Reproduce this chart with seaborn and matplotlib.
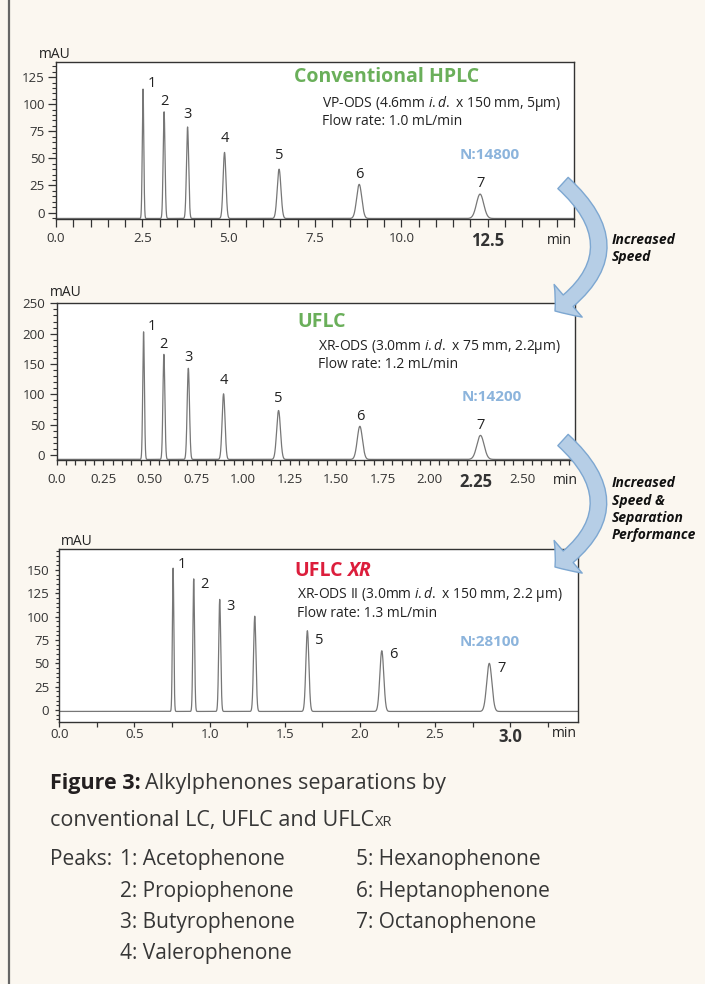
import numpy as np
import pandas as pd
import matplotlib
matplotlib.use("Agg")
import matplotlib.pyplot as plt
import seaborn as sns
from matplotlib.patches import FancyArrowPatch
from matplotlib.lines import Line2D
from matplotlib.ticker import MultipleLocator

# --- values ---
peak_ids = ["1", "2", "3", "4", "5", "6", "7"]
compounds = ["Acetophenone", "Propiophenone", "Butyrophenone", "Valerophenone",
             "Hexanophenone", "Heptanophenone", "Octanophenone"]

# conventional HPLC
hplc_rt = [2.52, 3.13, 3.81, 4.88, 6.46, 8.78, 12.28]
hplc_mau = [114, 93, 79, 55.5, 40, 26, 17]
hplc_sigma = [0.022, 0.027, 0.032, 0.041, 0.054, 0.074, 0.104]
hplc_base = -5.5

# UFLC
uflc_rt = [0.466, 0.575, 0.706, 0.895, 1.19, 1.626, 2.273]
uflc_mau = [203, 166, 143, 101, 73.5, 47.5, 32.5]
uflc_sigma = [0.0045, 0.0052, 0.0062, 0.0078, 0.0102, 0.0138, 0.0192]
uflc_base = -7

# UFLC XR
xr_rt = [0.757, 0.894, 1.067, 1.30, 1.65, 2.145, 2.86]
xr_mau = [152, 140.5, 118.5, 100.5, 85, 63.5, 50]
xr_sigma = [0.0048, 0.0056, 0.0066, 0.0080, 0.0100, 0.0130, 0.0172]
xr_base = -1.5

plate_counts = ["N:14800", "N:14200", "N:28100"]

# --- style ---
sns.set_theme(style="white")
plt.rcParams.update({
    "mathtext.fontset": "custom",
    "mathtext.rm": "Open Sans",
    "mathtext.it": "Open Sans:italic",
    "mathtext.bf": "Open Sans:bold",
    "axes.edgecolor": "#333333",
    "axes.linewidth": 1.0,
    "xtick.color": "#333333",
    "ytick.color": "#333333",
    "text.color": "#222222",
    "axes.facecolor": "white",
})
plt.rcParams["font.family"] = ["Open Sans", "DejaVu Sans"]

W, H = 705, 984
BG = "#FBF7F0"
GREEN = "#6AAF5A"
RED = "#DC1E3C"
NBLUE = "#8CB4DC"
TRACE = "#777777"


def trace(rt, apex, sigma, base, tmax, n=8000):
    t = np.linspace(0, tmax, n)
    y = np.full_like(t, base, dtype=float)
    for r, h, s in zip(rt, apex, sigma):
        y += (h - base) * np.exp(-0.5 * ((t - r) / s) ** 2)
    return pd.DataFrame({"min": t, "mAU": y})


def box(l, t, r, b):
    return [l / W, 1 - b / H, (r - l) / W, (b - t) / H]


fig = plt.figure(figsize=(W / 100, H / 100), dpi=100, facecolor=BG)

panels = [
    dict(pos=box(56, 62, 574, 219), rt=hplc_rt, mau=hplc_mau, sigma=hplc_sigma, base=hplc_base,
         xlim=(0, 15), ylim=(-6, 139), xmaj=2.5, xmin=0.5, ymaj=25, ymin=5,
         xlabels=["0.0", "2.5", "5.0", "7.5", "10.0", "12.5"], bold="12.5",
         xtl=5.5, xpad=3.8, ytl=5.5, ytl2=2.9, ypad=2.4,
         labels=peak_ids,
         offs=[(8.5, 6), (0, 10), (0, 12), (0, 14), (0, 13.5), (0, 10), (0, 10.5)],
         unit_off=(-1, 7), minpos=(-15, -21)),
    dict(pos=box(56.7, 303, 575, 460), rt=uflc_rt, mau=uflc_mau, sigma=uflc_sigma, base=uflc_base,
         xlim=(0, 2.78), ylim=(-8, 250.5), xmaj=0.25, xmin=0.05, ymaj=50, ymin=10,
         xlabels=["0.0", "0.25", "0.50", "0.75", "1.00", "1.25", "1.50", "1.75", "2.00", "2.25", "2.50"],
         bold="2.25",
         xtl=3.6, xpad=5.8, ytl=5.0, ytl2=2.9, ypad=3.4,
         labels=peak_ids,
         offs=[(8.5, 5), (0, 9.5), (0, 11), (0, 13.5), (0, 12.5), (0, 10), (0, 10)],
         unit_off=(9, 10), minpos=(-10, -21)),
    dict(pos=box(59.3, 549, 578, 721.7), rt=xr_rt, mau=xr_mau, sigma=xr_sigma, base=xr_base,
         xlim=(0, 3.45), ylim=(-12.5, 172.5), xmaj=0.5, xmin=0.25, ymaj=25, ymin=5,
         xlabels=["0.0", "0.5", "1.0", "1.5", "2.0", "2.5", "3.0"], bold="3.0",
         xtl=3.6, xpad=1.2, ytl=3.1, ytl2=1.9, ypad=4.1,
         labels=["1", "2", "3", "", "5", "6", "7"],
         offs=[(8.4, 3.5), (10.7, -5.8), (10.8, -7.2), (0, 0), (11.5, -10), (11.5, -3.5), (12.3, -5.5)],
         unit_off=(17, 7.5), minpos=(-13.5, -11.5)),
]

axes = []
for p in panels:
    ax = fig.add_axes(p["pos"])
    df = trace(p["rt"], p["mau"], p["sigma"], p["base"], p["xlim"][1])
    sns.lineplot(data=df, x="min", y="mAU", ax=ax, color=TRACE, linewidth=0.9,
                 estimator=None, sort=False)
    ax.set_xlim(*p["xlim"])
    ax.set_ylim(*p["ylim"])
    ax.set_xlabel("")
    ax.set_ylabel("")
    for s in ax.spines.values():
        s.set_color("#333333")
        s.set_linewidth(1.0)

    xt = np.arange(len(p["xlabels"])) * p["xmaj"]
    ax.set_xticks(xt)
    ax.set_xticklabels(p["xlabels"])
    ax.xaxis.set_minor_locator(MultipleLocator(p["xmin"]))
    ax.yaxis.set_major_locator(MultipleLocator(p["ymaj"]))
    ax.yaxis.set_minor_locator(MultipleLocator(p["ymin"]))
    ax.tick_params(axis="x", which="both", direction="out", length=p["xtl"], width=0.9,
                   pad=p["xpad"], labelsize=9.5, bottom=True)
    ax.tick_params(axis="y", which="major", direction="out", length=p["ytl"], width=0.9,
                   pad=p["ypad"], labelsize=9.5, left=True)
    ax.tick_params(axis="y", which="minor", direction="out", length=p["ytl2"], width=0.8, left=True)
    yt = [v for v in ax.get_yticks() if 0 <= v <= p["ylim"][1]]
    ax.set_yticks(yt)
    ax.set_yticklabels([f"{int(v)}" for v in yt])
    for lab in ax.get_xticklabels():
        if lab.get_text() == p["bold"]:
            lab.set_fontweight("bold")
            lab.set_fontsize(12)

    ax.annotate("min", xy=(1, 0), xycoords="axes fraction", xytext=p["minpos"],
                textcoords="offset pixels", ha="center", va="center", fontsize=10)
    ax.annotate("mAU", xy=(0, 1), xycoords="axes fraction", xytext=p["unit_off"],
                textcoords="offset pixels", ha="center", va="center", fontsize=10)

    for lab, r, h, (dx, dy) in zip(p["labels"], p["rt"], p["mau"], p["offs"]):
        if lab:
            ax.annotate(lab, xy=(r, h), xytext=(dx, dy), textcoords="offset pixels",
                        ha="center", va="center", fontsize=10.5)
    axes.append(ax)

ax1, ax2, ax3 = axes

# panel headers
ax1.text(0.638, 0.906, "Conventional HPLC", transform=ax1.transAxes, ha="center", va="center",
         color=GREEN, fontsize=14, fontweight="bold")
ax1.text(0.5126, 0.7325, r"VP-ODS (4.6mm $\it{i.d.}$ x 150 mm, 5µm)", transform=ax1.transAxes,
         ha="left", va="center", fontsize=10)
ax1.text(0.5126, 0.62, "Flow rate: 1.0 mL/min", transform=ax1.transAxes,
         ha="left", va="center", fontsize=10)
ax1.text(0.838, 0.4076, plate_counts[0], transform=ax1.transAxes, ha="center", va="center",
         color=NBLUE, fontsize=11, fontweight="bold")

ax2.text(0.511, 0.881, "UFLC", transform=ax2.transAxes, ha="center", va="center",
         color=GREEN, fontsize=14, fontweight="bold")
ax2.text(0.5034, 0.726, r"XR-ODS (3.0mm $\it{i.d.}$ x 75 mm, 2.2µm)", transform=ax2.transAxes,
         ha="left", va="center", fontsize=10)
ax2.text(0.5034, 0.611, "Flow rate: 1.2 mL/min", transform=ax2.transAxes,
         ha="left", va="center", fontsize=10)
ax2.text(0.8395, 0.403, plate_counts[1], transform=ax2.transAxes, ha="center", va="center",
         color=NBLUE, fontsize=11, fontweight="bold")

t_uflc = ax3.text(0.4525, 0.845, "UFLC", transform=ax3.transAxes, ha="left", va="baseline",
                  color=RED, fontsize=14, fontweight="bold")
ax3.text(0.4575, 0.7337, r"XR-ODS II (3.0mm $\it{i.d.}$ x 150 mm, 2.2 µm)", transform=ax3.transAxes,
         ha="left", va="center", fontsize=10)
ax3.text(0.4575, 0.6277, "Flow rate: 1.3 mL/min", transform=ax3.transAxes,
         ha="left", va="center", fontsize=10)
ax3.text(0.830, 0.463, plate_counts[2], transform=ax3.transAxes, ha="center", va="center",
         color=NBLUE, fontsize=11, fontweight="bold")

fig.canvas.draw()


def after(prev, s, gap, y_fig, **kw):
    bb = prev.get_window_extent()
    return fig.text((bb.x1 + gap) / W, y_fig, s, va="baseline", **kw)


y_uflc = fig.transFigure.inverted().transform(ax3.transAxes.transform((0, 0.845)))[1]
after(t_uflc, "XR", 5, y_uflc, color=RED, fontsize=14, fontweight="bold", style="italic")

# curved arrows between panels
def fpx(x, y):
    return (x / W, 1 - y / H)


for (x0, y0), (x1, y1) in [((563, 183), (555, 311)), ((563, 440), (555, 567))]:
    arr = FancyArrowPatch(fpx(x0, y0), fpx(x1, y1), transform=fig.transFigure,
                          connectionstyle="arc3,rad=-0.62",
                          arrowstyle="simple,head_length=12,head_width=31,tail_width=11",
                          mutation_scale=1, shrinkA=0, shrinkB=0,
                          facecolor="#B6CEE6", edgecolor="#7DA7D1", linewidth=1.0, zorder=5)
    fig.add_artist(arr)

for lines, y0 in [(["Increased", "Speed"], 244), (["Increased", "Speed &", "Separation", "Performance"], 487.3)]:
    for i, s in enumerate(lines):
        fig.text(612 / W, 1 - (y0 + i * 17.4) / H, s, ha="left", va="baseline",
                 fontsize=10, fontweight="bold", style="italic", color="#111111")

# caption
cap = "#363636"
t_fig = fig.text(49.5 / W, 1 - 789.3 / H, "Figure 3:", ha="left", va="baseline",
                 fontsize=15.5, fontweight="bold", color="#231F20")
after(t_fig, "Alkylphenones separations by", 5, 1 - 789.3 / H, fontsize=15.5, color=cap)
t_l2 = fig.text(49.5 / W, 1 - 826 / H, "conventional LC, UFLC and UFLC", ha="left", va="baseline",
                fontsize=15.5, color=cap)
after(t_l2, "XR", 1, 1 - 826 / H, fontsize=10.5, color=cap)

fig.text(49.5 / W, 1 - 865 / H, "Peaks:", ha="left", va="baseline", fontsize=15, color=cap)
rows = [865, 896.7, 927.7, 959]
for i in range(4):
    fig.text(120.5 / W, 1 - rows[i] / H, f"{peak_ids[i]}: {compounds[i]}", ha="left",
             va="baseline", fontsize=15, color=cap)
for i in range(4, 7):
    fig.text(356 / W, 1 - rows[i - 4] / H, f"{peak_ids[i]}: {compounds[i]}", ha="left",
             va="baseline", fontsize=15, color=cap)

# left border rule
fig.add_artist(Line2D([9 / W, 9 / W], [0, 1], transform=fig.transFigure, color="#666666", lw=1.6))

fig.savefig("out.png", dpi=100, facecolor=BG)
